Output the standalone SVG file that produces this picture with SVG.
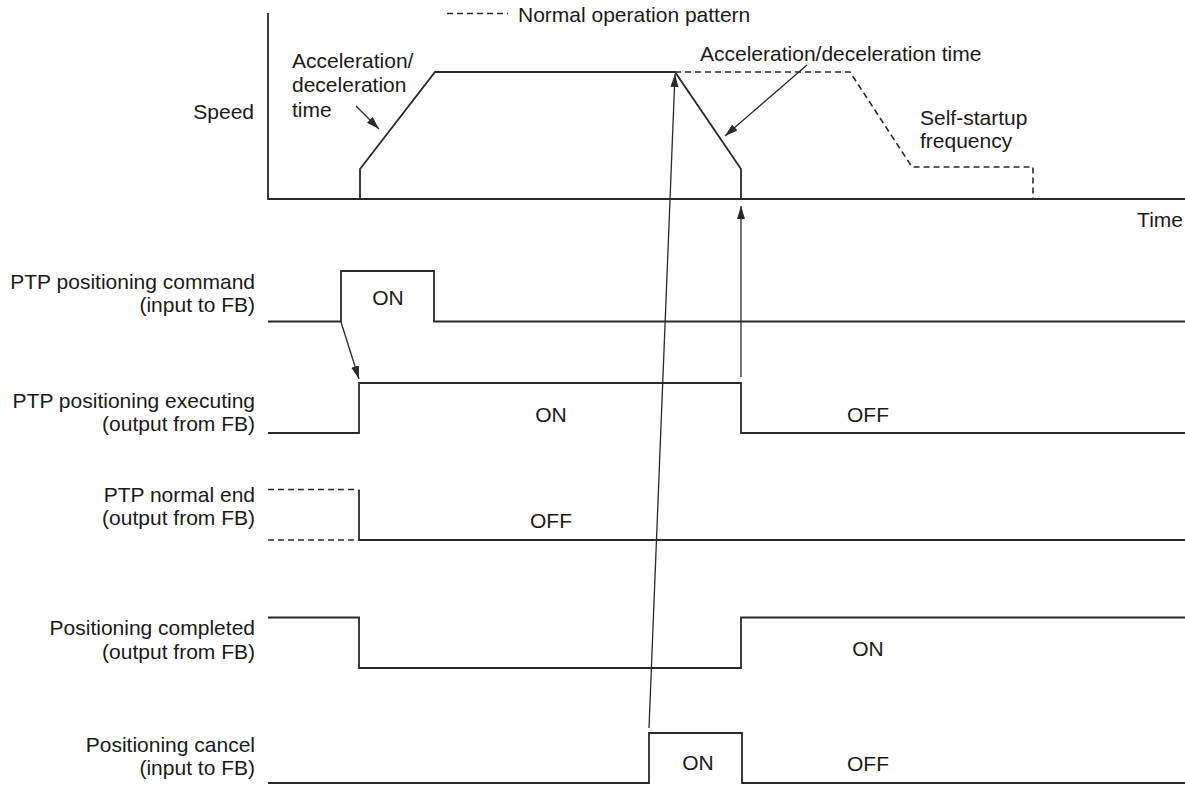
<svg xmlns="http://www.w3.org/2000/svg" width="1185" height="785" viewBox="0 0 1185 785">
  <style>
    text { font-family: "Liberation Sans", Arial, sans-serif; font-size: 21px; fill: #1a1a1a; }
    .lbl { text-anchor: end; }
    .mid { text-anchor: middle; }
    .sig { fill: none; stroke: #2a2a2a; stroke-width: 1.8; stroke-linejoin: miter; }
    .dash { fill: none; stroke: #2a2a2a; stroke-width: 1.6; stroke-dasharray: 6 4; }
    .arr { fill: none; stroke: #2a2a2a; stroke-width: 1.3; marker-end: url(#head); }
  </style>
  <defs>
    <marker id="head" markerUnits="userSpaceOnUse" markerWidth="14" markerHeight="10" refX="13" refY="4" orient="auto">
      <path d="M0,0 L13,4 L0,8 Z" fill="#2a2a2a"/>
    </marker>
  </defs>
  <rect width="1185" height="785" fill="#ffffff"/>

  <!-- speed profile chart -->
  <g id="speed-chart">
    <path class="sig" d="M268,13 V199 H1185"/>
    <path class="sig" d="M268,199 H360 V169 L435,72 H675 L741,169 V199"/>
    <path class="dash" d="M675,72 H850 L912,167 H1033 V199"/>
    <text class="lbl" x="254" y="119">Speed</text>
    <text x="1183" y="227" text-anchor="end">Time</text>
    <text x="292" y="68">Acceleration/</text>
    <text x="292" y="92">deceleration</text>
    <text x="292" y="117">time</text>
    <text x="700" y="61">Acceleration/deceleration time</text>
    <text x="920" y="125">Self-startup</text>
    <text x="920" y="148">frequency</text>
  </g>

  <!-- legend -->
  <g id="legend">
    <path class="dash" d="M447,13.5 H508"/>
    <text x="518" y="22">Normal operation pattern</text>
  </g>

  <!-- PTP positioning command -->
  <g id="ptp-command">
    <text class="lbl" x="255" y="289">PTP positioning command</text>
    <text class="lbl" x="255" y="312">(input to FB)</text>
    <path class="sig" d="M268,321.5 H341 V271 H434 V321.5 H1185"/>
    <text class="mid" x="388" y="305">ON</text>
  </g>

  <!-- PTP positioning executing -->
  <g id="ptp-executing">
    <text class="lbl" x="255" y="408">PTP positioning executing</text>
    <text class="lbl" x="255" y="431">(output from FB)</text>
    <path class="sig" d="M268,433 H359 V383 H741 V433 H1185"/>
    <text class="mid" x="551" y="422">ON</text>
    <text class="mid" x="868" y="422">OFF</text>
  </g>

  <!-- PTP normal end -->
  <g id="ptp-normal-end">
    <text class="lbl" x="255" y="502">PTP normal end</text>
    <text class="lbl" x="255" y="525">(output from FB)</text>
    <path class="dash" d="M268,489.5 H358"/>
    <path class="dash" d="M268,540 H358"/>
    <path class="sig" d="M359,489.5 V540 H1185"/>
    <text class="mid" x="551" y="528">OFF</text>
  </g>

  <!-- Positioning completed -->
  <g id="positioning-completed">
    <text class="lbl" x="255" y="635">Positioning completed</text>
    <text class="lbl" x="255" y="659">(output from FB)</text>
    <path class="sig" d="M268,617.5 H359 V668 H741 V617.5 H1185"/>
    <text class="mid" x="868" y="656">ON</text>
  </g>

  <!-- Positioning cancel -->
  <g id="positioning-cancel">
    <text class="lbl" x="255" y="752">Positioning cancel</text>
    <text class="lbl" x="255" y="775">(input to FB)</text>
    <path class="sig" d="M268,783 H649 V733 H742 V783 H1185"/>
    <text class="mid" x="698" y="770">ON</text>
    <text class="mid" x="868" y="771">OFF</text>
  </g>

  <!-- connectors -->
  <g id="connectors">
    <path class="arr" d="M356,106 L379,129"/>
    <path class="arr" d="M807,65 L725,136"/>
    <path class="arr" d="M341,322 L359,379"/>
    <path class="arr" d="M741,377 V206"/>
    <path class="arr" d="M649,728 L675,74"/>
  </g>
</svg>
